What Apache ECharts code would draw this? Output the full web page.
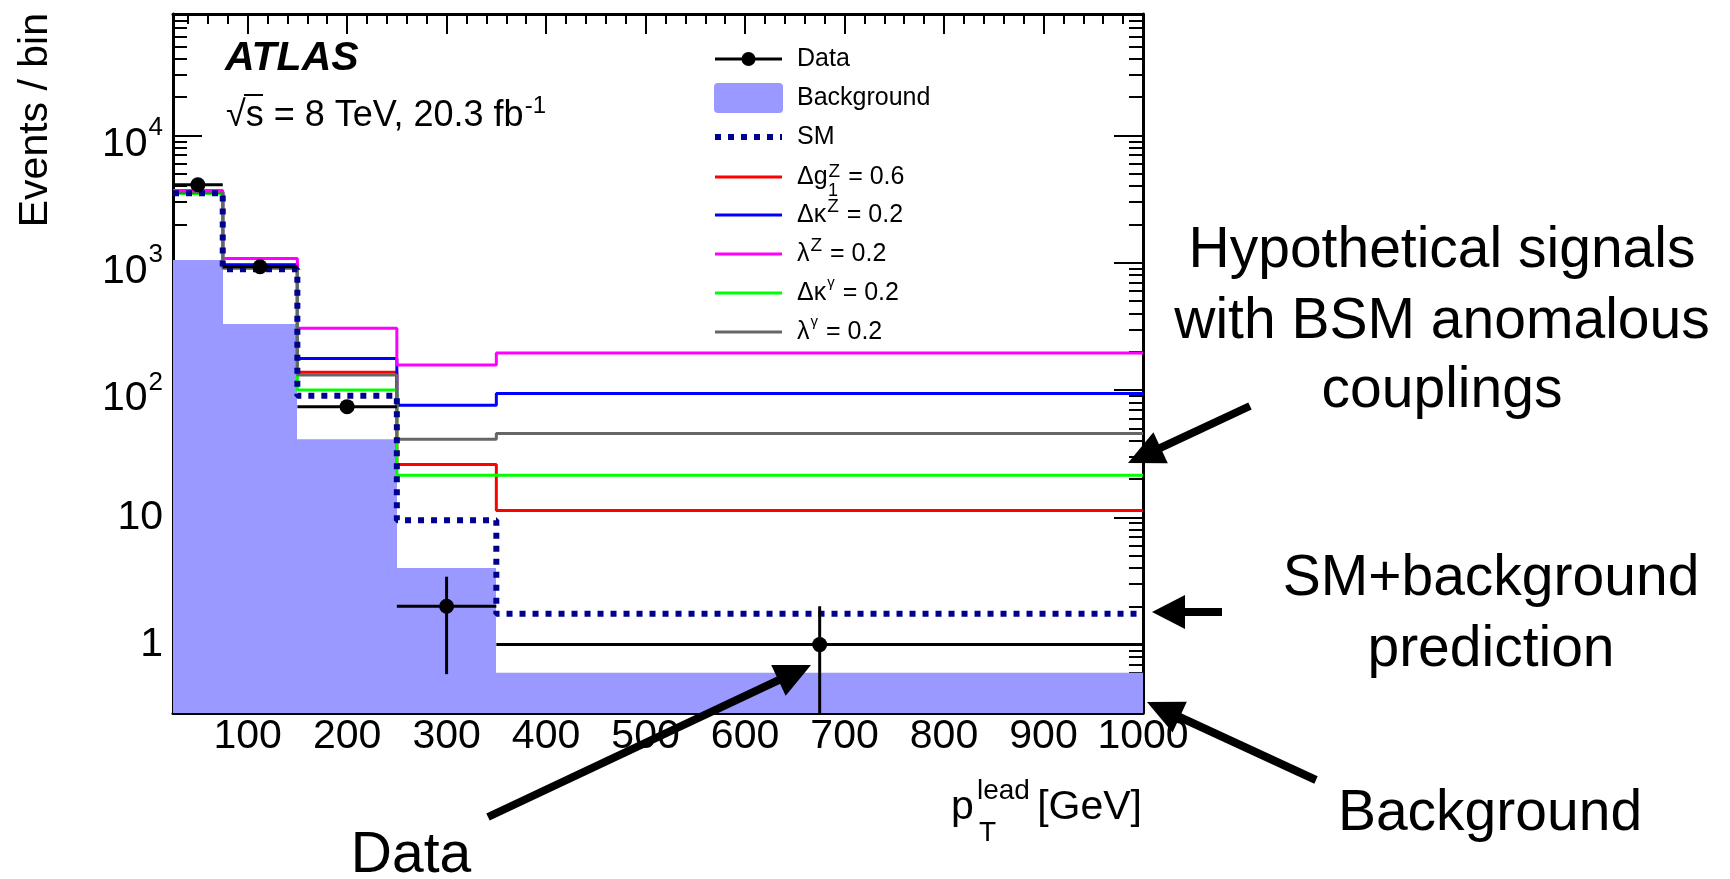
<!DOCTYPE html>
<html>
<head>
<meta charset="utf-8">
<script src="https://cdn.jsdelivr.net/npm/echarts@6/dist/echarts.min.js"></script>
<style>
  html, body { margin: 0; padding: 0; background: #ffffff; }
  #chart { width: 1730px; height: 879px; }
</style>
</head>
<body>
<div id="chart"></div>
<script>
// Leading-photon pT bin edges [GeV]
const binEdges = [25, 75, 150, 250, 350, 1000];
// Observed events per bin
const dataCounts = [4100, 930, 74, 2, 1];
// Background expectation per bin
const background = [1050, 330, 41, 4.0, 0.6];
// SM + background prediction per bin
const smPrediction = [3520, 890, 90, 9.5, 1.75];
// Hypothetical signals with anomalous couplings (incl. background)
const dg1Z = [3600, 970, 138, 26, 11.3];
const dkZ  = [3580, 950, 177, 76, 94];
const lamZ = [3700, 1080, 305, 157, 195];
const dkG  = [3500, 900, 100, 21.4, 21.4];
const lamG = [3560, 910, 131, 41, 45.5];

// Axis ranges and tick labels
const X_MIN = 25, X_MAX = 1000;
const Y_MIN = 0.29, Y_MAX = 90000;
const xMajorTicks = [100, 200, 300, 400, 500, 600, 700, 800, 900, 1000];
const yMajorTicks = [1, 10, 100, 1000, 10000];
const yTickBase = ['1', '10', '10', '10', '10'];
const yTickExp  = ['', '', '2', '3', '4'];

// minor ticks: every 20 GeV on x, 2..9 per decade on y
const xMinorTicks = [];
for (let v = 40; v < X_MAX; v += 20) if (v % 100 !== 0) xMinorTicks.push(v);
const yMinorTicks = [];
for (let d = -1; d <= 4; d++) {
  for (let k = 2; k <= 9; k++) {
    const v = k * Math.pow(10, d);
    if (v >= Y_MIN && v <= Y_MAX) yMinorTicks.push(+v.toPrecision(3));
  }
}

const FONT = '"Liberation Sans", Arial, Helvetica, sans-serif';
const BLACK = '#000000';
const AXIS_FONT = 41;

function stepPoints(vals) {
  const pts = vals.map((v, i) => [binEdges[i], v]);
  pts.push([binEdges[binEdges.length - 1], vals[vals.length - 1]]);
  return pts;
}

function xAxisDef(position, ticks, len, showLine, showLabel) {
  return {
    type: 'value', position: position, min: X_MIN, max: X_MAX, gridIndex: 0,
    axisLine: { show: showLine, onZero: false, lineStyle: { color: BLACK, width: 3 } },
    axisTick: { show: true, inside: true, length: len, customValues: ticks,
                lineStyle: { color: BLACK, width: 2 } },
    axisLabel: { show: showLabel, customValues: ticks, margin: 3, color: BLACK,
                 fontFamily: FONT, fontSize: AXIS_FONT,
                 formatter: function (v) { return String(v); } },
    splitLine: { show: false }, minorTick: { show: false }
  };
}

function yAxisDef(position, ticks, len, showLine, showLabel) {
  return {
    type: 'log', logBase: 10, position: position, min: Y_MIN, max: Y_MAX, gridIndex: 0,
    axisLine: { show: showLine, onZero: false, lineStyle: { color: BLACK, width: 3 } },
    axisTick: { show: true, inside: true, length: len, customValues: ticks,
                lineStyle: { color: BLACK, width: 2 } },
    axisLabel: {
      show: showLabel, customValues: ticks, margin: 10,
      formatter: function (v) {
        const i = yMajorTicks.findIndex(t => Math.abs(t - v) / t < 1e-6);
        if (i < 0) return '';
        return yTickExp[i] ? '{b|' + yTickBase[i] + '}{s|' + yTickExp[i] + '}'
                           : '{p|' + yTickBase[i] + '}';
      },
      rich: {
        p: { fontFamily: FONT, fontSize: AXIS_FONT, color: BLACK },
        b: { fontFamily: FONT, fontSize: AXIS_FONT, color: BLACK, padding: [18, 0, 0, 0] },
        s: { fontFamily: FONT, fontSize: 26, color: BLACK, verticalAlign: 'top', padding: [9, 0, 0, 1] }
      }
    },
    splitLine: { show: false }, minorTick: { show: false }
  };
}

function stepSeries(name, vals, color, lineStyleExtra) {
  return {
    type: 'line', name: name, data: stepPoints(vals), step: 'end',
    showSymbol: false, symbol: 'none', clip: true, silent: true,
    lineStyle: Object.assign({ color: color, width: 3 }, lineStyleExtra || {})
  };
}

// ---------- graphic helpers (legend, labels, annotations) ----------
function text(x, y, str, size, extra) {
  return {
    type: 'text', x: x, y: y, silent: true, z: 100,
    style: Object.assign({ text: str, fill: BLACK, fontFamily: FONT, fontSize: size,
                           align: 'left', verticalAlign: 'middle' }, extra || {})
  };
}
// text with superscripts; the main runs get a top padding so the
// superscript sits higher than the capitals
function richText(x, y, str, mainSize, supSize, lift) {
  const pad = lift || 0;
  return {
    type: 'text', x: x, y: y - pad / 2, silent: true, z: 100,
    style: {
      text: str, fill: BLACK, align: 'left', verticalAlign: 'middle',
      fontFamily: FONT, fontSize: mainSize,
      rich: {
        m: { fontFamily: FONT, fontSize: mainSize, fill: BLACK, padding: [pad, 0, 0, 0] },
        s: { fontFamily: FONT, fontSize: supSize, fill: BLACK, verticalAlign: 'top', padding: [0, 1, 0, 1] }
      }
    }
  };
}
function hline(x1, x2, y, color, width, dash) {
  return {
    type: 'line', silent: true, z: 100,
    shape: { x1: x1, y1: y, x2: x2, y2: y },
    style: { stroke: color, lineWidth: width, lineDash: dash || null }
  };
}
function arrow(x0, y0, x1, y1, headLen, headHalf, width) {
  const dx = x1 - x0, dy = y1 - y0, len = Math.hypot(dx, dy);
  const ux = dx / len, uy = dy / len, nx = -uy, ny = ux;
  const bx = x1 - ux * headLen, by = y1 - uy * headLen;
  return [
    { type: 'line', silent: true, z: 100,
      shape: { x1: x0, y1: y0, x2: bx + ux * 2, y2: by + uy * 2 },
      style: { stroke: BLACK, lineWidth: width } },
    { type: 'polygon', silent: true, z: 100,
      shape: { points: [[x1, y1], [bx + nx * headHalf, by + ny * headHalf],
                        [bx - nx * headHalf, by - ny * headHalf]] },
      style: { fill: BLACK } }
  ];
}

// legend rows: symbol from 715 to 782, text from 797
const LX0 = 715, LX1 = 782, LT = 797;
const rowY = [59, 98, 137, 177, 215, 254, 293, 332];
const legend = [
  hline(LX0, LX1, rowY[0], BLACK, 3),
  { type: 'circle', silent: true, z: 100, shape: { cx: (LX0 + LX1) / 2, cy: rowY[0], r: 7 }, style: { fill: BLACK } },
  text(LT, rowY[0], 'Data', 25),
  { type: 'rect', silent: true, z: 100, shape: { x: 714, y: rowY[1] - 15, width: 69, height: 30, r: 4 }, style: { fill: '#9999ff' } },
  text(LT, rowY[1], 'Background', 25),
  hline(LX0, LX1, rowY[2], '#00008f', 6, [6, 7]),
  text(LT, rowY[2], 'SM', 25),
  hline(LX0, LX1, rowY[3], '#ff0000', 3),
  richText(LT, rowY[3], '{m|Δg}{s|Z}{m| = 0.6}', 25, 19, 2),
  text(LT + 31, rowY[3] + 14, '1', 18),
  hline(LX0, LX1, rowY[4], '#0000ff', 3),
  richText(LT, rowY[4], '{m|Δκ}{s|Z}{m| = 0.2}', 25, 19, 5),
  hline(LX0, LX1, rowY[5], '#ff00ff', 3),
  richText(LT, rowY[5], '{m|λ}{s|Z}{m| = 0.2}', 25, 19, 5),
  hline(LX0, LX1, rowY[6], '#00ff00', 3),
  richText(LT, rowY[6], '{m|Δκ}{s|γ}{m| = 0.2}', 25, 15, 5),
  hline(LX0, LX1, rowY[7], '#666666', 3),
  richText(LT, rowY[7], '{m|λ}{s|γ}{m| = 0.2}', 25, 15, 5)
];

// experiment label and energy / luminosity
const labels = [
  text(225, 59, 'ATLAS', 41, { fontWeight: 'bold', fontStyle: 'italic' }),
  richText(226, 116, '{m|√s = 8 TeV, 20.3 fb}{s|-1}', 36, 24, 4),
  { type: 'line', silent: true, z: 100, shape: { x1: 244, y1: 95, x2: 263, y2: 95 }, style: { stroke: BLACK, lineWidth: 2 } },
  // y-axis title
  { type: 'text', silent: true, z: 100, x: 36, y: 13, rotation: Math.PI / 2,
    style: { text: 'Events / bin', fill: BLACK, fontFamily: FONT, fontSize: 41, align: 'right', verticalAlign: 'middle' } },
  // x-axis title
  text(1142, 822 - 14, '[GeV]', 41, { align: 'right' }),
  text(951, 822 - 14, 'p', 41),
  text(977, 800 - 9, 'lead', 28),
  text(979, 842 - 9, 'T', 28)
];

// explanatory annotations around the plot
const annotations = [
  text(1442, 270 - 19, 'Hypothetical signals', 57, { align: 'center' }),
  text(1442, 341 - 19, 'with BSM anomalous', 57, { align: 'center' }),
  text(1442, 410 - 19, 'couplings', 57, { align: 'center' }),
  text(1491, 598 - 19, 'SM+background', 57, { align: 'center' }),
  text(1491, 669 - 19, 'prediction', 57, { align: 'center' }),
  text(1490, 833 - 19, 'Background', 57, { align: 'center' }),
  text(411, 875 - 19, 'Data', 57, { align: 'center' })
].concat(
  arrow(1250, 406, 1128, 463, 36, 17, 8),
  arrow(1222, 612, 1152, 612, 33, 17, 8),
  arrow(1316, 780, 1147, 702, 36, 17, 8),
  arrow(488, 817, 811, 665, 36, 17, 8)
);

const option = {
  animation: false,
  backgroundColor: '#ffffff',
  textStyle: { fontFamily: FONT, color: BLACK },
  grid: { left: 173, top: 14, width: 970, height: 699, containLabel: false, outerBoundsMode: 'none', show: false },
  xAxis: [
    xAxisDef('bottom', xMajorTicks, 20, true, true),
    xAxisDef('bottom', xMinorTicks, 10, false, false),
    xAxisDef('top', xMajorTicks, 20, true, false),
    xAxisDef('top', xMinorTicks, 10, false, false)
  ],
  yAxis: [
    yAxisDef('left', yMajorTicks, 29, true, true),
    yAxisDef('left', yMinorTicks, 14, false, false),
    yAxisDef('right', yMajorTicks, 29, true, false),
    yAxisDef('right', yMinorTicks, 14, false, false)
  ],
  series: [
    {
      type: 'custom', name: 'Background', silent: true, clip: true,
      data: background.map((v, i) => [binEdges[i], binEdges[i + 1], v]),
      encode: { x: [0, 1], y: [2] },
      renderItem: function (params, api) {
        const p0 = api.coord([api.value(0), api.value(2)]);
        const p1 = api.coord([api.value(1), Y_MIN]);
        const x0 = Math.round(p0[0]), x1 = Math.round(p1[0]);
        return { type: 'rect',
                 shape: { x: x0, y: p0[1], width: x1 - x0, height: p1[1] - p0[1] },
                 style: { fill: '#9999ff' } };
      }
    },
    stepSeries('Δg1Z = 0.6', dg1Z, '#ff0000'),
    stepSeries('ΔκZ = 0.2', dkZ, '#0000ff'),
    stepSeries('λZ = 0.2', lamZ, '#ff00ff'),
    stepSeries('Δκγ = 0.2', dkG, '#00ff00'),
    stepSeries('λγ = 0.2', lamG, '#666666'),
    stepSeries('SM', smPrediction, '#00008f', { width: 6, type: [6, 7], cap: 'butt' }),
    {
      type: 'custom', name: 'Data', silent: true, clip: true, z: 5,
      data: dataCounts.map((n, i) => [(binEdges[i] + binEdges[i + 1]) / 2, n,
                                       binEdges[i], binEdges[i + 1], Math.sqrt(n)]),
      encode: { x: [0], y: [1] },
      renderItem: function (params, api) {
        const xc = api.value(0), y = api.value(1), err = api.value(4);
        const c = api.coord([xc, y]);
        const l = api.coord([api.value(2), y]);
        const r = api.coord([api.value(3), y]);
        const top = api.coord([xc, y + err]);
        const bot = api.coord([xc, Math.max(y - err, Y_MIN)]);
        return { type: 'group', children: [
          { type: 'line', shape: { x1: l[0], y1: l[1], x2: r[0], y2: r[1] }, style: { stroke: BLACK, lineWidth: 3 } },
          { type: 'line', shape: { x1: top[0], y1: top[1], x2: bot[0], y2: bot[1] }, style: { stroke: BLACK, lineWidth: 3 } },
          { type: 'circle', shape: { cx: c[0], cy: c[1], r: 7.5 }, style: { fill: BLACK } }
        ] };
      }
    }
  ],
  graphic: { elements: legend.concat(labels, annotations) }
};

const chart = echarts.init(document.getElementById('chart'));
chart.setOption(option);
</script>
</body>
</html>
